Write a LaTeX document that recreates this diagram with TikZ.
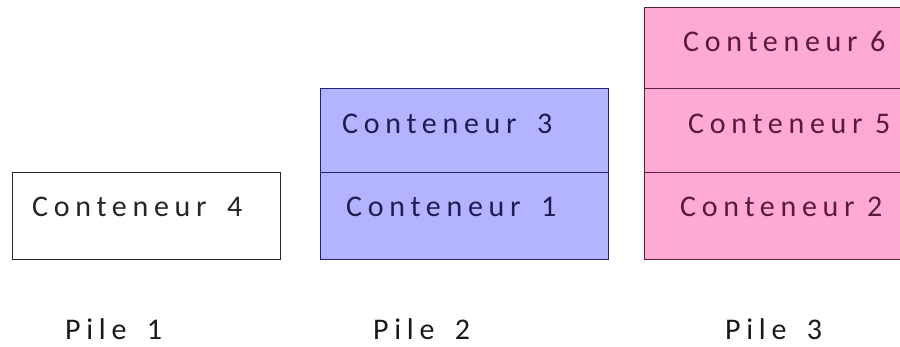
\documentclass[tikz,border=0pt]{standalone}
\usepackage{fontspec}
\setmainfont{Carlito}[LetterSpace=19]
\definecolor{bluefill}{HTML}{B3B3FF}
\definecolor{blueline}{HTML}{22226A}
\definecolor{bluetext}{HTML}{1E1E55}
\definecolor{pinkfill}{HTML}{FFAAD4}
\definecolor{pinkline}{HTML}{5A1E40}
\definecolor{pinktext}{HTML}{5A1A3C}
\tikzset{
  box/.style={rectangle, draw, line width=1pt, inner sep=0pt, anchor=north west},
  whitebox/.style={box, draw=black!85, fill=white},
  bluebox/.style={box, draw=blueline, fill=bluefill},
  pinkbox/.style={box, draw=pinkline, fill=pinkfill},
  lbl/.style={anchor=base west, inner sep=0pt, text depth=0pt, font=\fontsize{30}{34}\selectfont},
  pilelbl/.style={lbl, text=black!90}
}
\begin{document}
\begin{tikzpicture}[x=1pt,y=-1pt]
\useasboundingbox (0,0) rectangle (900,347);
\clip (0,0) rectangle (900,347);
% Pile 1
\node[whitebox, minimum width=268pt, minimum height=87pt] (b4) at (12,172) {};
\node[lbl, text=black!85] (t4) at (32,217) {Conteneur\hspace{8pt} 4};
% Pile 2
\node[bluebox, minimum width=288pt, minimum height=84pt] (b3) at (320,88) {};
\node[bluebox, minimum width=288pt, minimum height=87pt] (b1) at (320,172) {};
\node[lbl, text=bluetext] (t3) at (342,134) {Conteneur\hspace{8pt} 3};
\node[lbl, text=bluetext] (t1) at (346,217) {Conteneur\hspace{8pt} 1};
% Pile 3
\node[pinkbox, minimum width=270pt, minimum height=81pt] (b6) at (644,7) {};
\node[pinkbox, minimum width=270pt, minimum height=84pt] (b5) at (644,88) {};
\node[pinkbox, minimum width=270pt, minimum height=87pt] (b2) at (644,172) {};
\node[lbl, text=pinktext] (t6) at (683,52) {Conteneur 6};
\node[lbl, text=pinktext] (t5) at (688,134) {Conteneur 5};
\node[lbl, text=pinktext] (t2) at (680,217) {Conteneur 2};
% Labels
\node[pilelbl] (p1) at (65,340) {Pile\hspace{8pt} 1};
\node[pilelbl] (p2) at (373,340) {Pile\hspace{8pt} 2};
\node[pilelbl] (p3) at (725,340) {Pile\hspace{8pt} 3};
\end{tikzpicture}
\end{document}
